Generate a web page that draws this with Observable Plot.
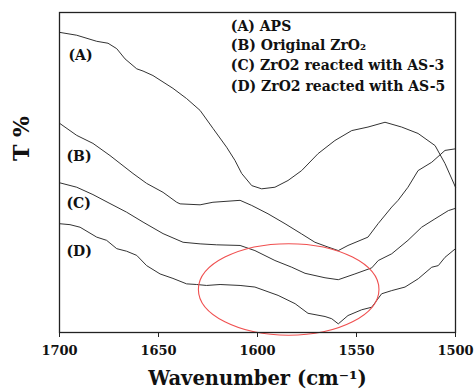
<!DOCTYPE html>
<html>
<head>
<meta charset="utf-8">
<script src="https://cdn.jsdelivr.net/npm/d3@7"></script>
<script src="https://cdn.jsdelivr.net/npm/@observablehq/plot@0.6"></script>
<style>
  html, body { margin: 0; padding: 0; background: #fff; }
  #chart svg { display: block; }
</style>
</head>
<body>
<div id="chart"></div>
<script>
// ---- Data (T% in arbitrary units 0–100) ----
const wavenumberA = [1700, 1691.3, 1681.2, 1675.5, 1671.1, 1666.9, 1661.0, 1657.8, 1652.8, 1642.7, 1635.8, 1629.0, 1622.5, 1615.6, 1611.4, 1608.0, 1602.9, 1597.9, 1591.2, 1584.6, 1577.7, 1569.4, 1560.9, 1552.4, 1544.2, 1535.6, 1527.2, 1518.9, 1510.3, 1505.3, 1500];
const transA      = [93.8, 92.9, 91.0, 90.4, 88.7, 85.5, 82.4, 81.7, 80.3, 76.3, 73.1, 69.4, 63.8, 57.9, 53.8, 49.7, 45.9, 44.9, 45.4, 47.5, 50.6, 55.9, 60.0, 63.1, 64.2, 65.7, 64.2, 62.2, 58.4, 52.8, 45.4];

const wavenumberB = [1700, 1691.3, 1683.1, 1674.5, 1662.9, 1656.0, 1647.7, 1640.8, 1639.1, 1629.0, 1622.5, 1608.8, 1602.9, 1594.7, 1586.1, 1577.7, 1571.0, 1564.4, 1559.2, 1554.3, 1544.2, 1539.1, 1532.2, 1529.0, 1524.0, 1518.9, 1512.0, 1505.3, 1500];
const transB      = [65.4, 61.6, 59.1, 55.3, 49.7, 46.6, 43.8, 40.7, 40.2, 39.9, 40.7, 41.3, 39.7, 37.1, 34.0, 30.8, 28.2, 26.7, 25.6, 27.2, 29.8, 34.0, 39.2, 41.3, 45.4, 50.6, 53.2, 56.9, 57.4];

const wavenumberC = [1700, 1691.3, 1683.1, 1674.5, 1666.1, 1657.8, 1647.7, 1637.6, 1629.0, 1620.6, 1608.8, 1601.3, 1591.2, 1582.7, 1576.0, 1565.9, 1559.2, 1550.8, 1542.3, 1539.0, 1532.2, 1524.0, 1517.1, 1510.4, 1503.6, 1500];
const transC      = [46.8, 45.4, 43.1, 40.3, 37.6, 34.5, 30.9, 28.2, 27.7, 27.4, 27.2, 25.6, 22.5, 20.4, 18.5, 17.1, 16.5, 18.3, 20.2, 22.5, 24.6, 28.8, 32.9, 35.5, 38.1, 38.8];

const wavenumberD = [1700, 1694.7, 1689.6, 1681.2, 1676.2, 1671.1, 1666.1, 1661.0, 1656.0, 1649.2, 1642.7, 1635.8, 1630.7, 1625.7, 1618.9, 1608.8, 1601.3, 1589.6, 1581.0, 1574.5, 1565.9, 1562.5, 1559.2, 1554.3, 1547.4, 1542.3, 1537.3, 1532.2, 1525.5, 1518.8, 1512.0, 1508.7, 1505.3, 1500];
const transD      = [34.0, 33.7, 32.9, 29.8, 28.8, 26.2, 25.4, 24.1, 20.9, 18.3, 16.9, 15.2, 15.0, 14.7, 15.0, 14.7, 14.2, 11.6, 9.0, 6.0, 5.0, 4.3, 2.7, 5.3, 7.1, 7.9, 12.1, 13.1, 14.2, 16.8, 20.4, 20.9, 23.5, 26.2];

const xTicks = [1700, 1650, 1600, 1550, 1500];

const curveLabels  = ["(A)", "(B)", "(C)", "(D)"];
const curveLabelX  = [1695.5, 1696.5, 1696.5, 1696.5];
const curveLabelY  = [86.6, 55.0, 40.3, 25.3];

const legendLines  = ["(A) APS", "(B) Original ZrO\u2082", "(C) ZrO2 reacted with AS-3", "(D) ZrO2 reacted with AS-5"];
const legendX      = 1613.5;
const legendY      = [95.6, 89.6, 83.3, 76.8];

// highlighted region (red ellipse): centre and half-widths in data units
const ellipseCenter = [1584, 13.3];
const ellipseRadii  = [45.6, 14.3];

// ---- Build table ----
const series = [
  ["A", wavenumberA, transA],
  ["B", wavenumberB, transB],
  ["C", wavenumberC, transC],
  ["D", wavenumberD, transD]
];
const rows = series.flatMap(([name, xs, ys]) => xs.map((x, i) => ({series: name, x, y: ys[i]})));

const font = "'DejaVu Serif', 'Liberation Serif', serif";

// ellipse drawn through the plot's scales
function ellipseMark(index, scales) {
  const {x, y} = scales;
  const cx = x(ellipseCenter[0]);
  const cy = y(ellipseCenter[1]);
  const rx = Math.abs(x(ellipseCenter[0] + ellipseRadii[0]) - cx);
  const ry = Math.abs(y(ellipseCenter[1] + ellipseRadii[1]) - cy);
  const el = document.createElementNS("http://www.w3.org/2000/svg", "ellipse");
  el.setAttribute("cx", cx);
  el.setAttribute("cy", cy);
  el.setAttribute("rx", rx);
  el.setAttribute("ry", ry);
  el.setAttribute("fill", "none");
  el.setAttribute("stroke", "#f05050");
  el.setAttribute("stroke-width", "1.1");
  return el;
}

const chart = Plot.plot({
  width: 475,
  height: 391,
  marginLeft: 59,
  marginRight: 20,
  marginTop: 12,
  marginBottom: 59,
  style: {fontFamily: font, fontWeight: "bold", fontSize: "13px", background: "#fff", color: "#111"},
  x: {domain: [1700, 1500]},
  y: {domain: [0, 100], axis: null},
  marks: [
    Plot.line(rows, {x: "x", y: "y", z: "series", stroke: "#333", strokeWidth: 1, curve: "linear"}),
    ellipseMark,
    Plot.frame({stroke: "#222", strokeWidth: 1.3}),
    Plot.axisX({ticks: xTicks, tickSize: 5, tickPadding: 8, tickFormat: d => String(d), label: null, fontSize: 13, fontWeight: "bold", fontFamily: font, stroke: "#222"}),
    Plot.text(curveLabels, {x: (d, i) => curveLabelX[i], y: (d, i) => curveLabelY[i], text: d => d, textAnchor: "start", fontSize: 14, fontWeight: "bold", fill: "#111"}),
    Plot.text(legendLines, {x: legendX, y: (d, i) => legendY[i], text: d => d, textAnchor: "start", fontSize: 14, fontWeight: "bold", fill: "#111"}),
    Plot.text(["Wavenumber (cm\u207B\u00B9)"], {frameAnchor: "bottom", text: d => d, lineAnchor: "top", dy: 39, fontSize: 19.5, fontWeight: "bold", fill: "#111"}),
    Plot.text(["T %"], {frameAnchor: "left", y: () => 53.6, text: d => d, rotate: -90, dx: -37.5, fontSize: 22, fontWeight: "bold", fill: "#111"})
  ]
});

document.getElementById("chart").appendChild(chart);
</script>
</body>
</html>
